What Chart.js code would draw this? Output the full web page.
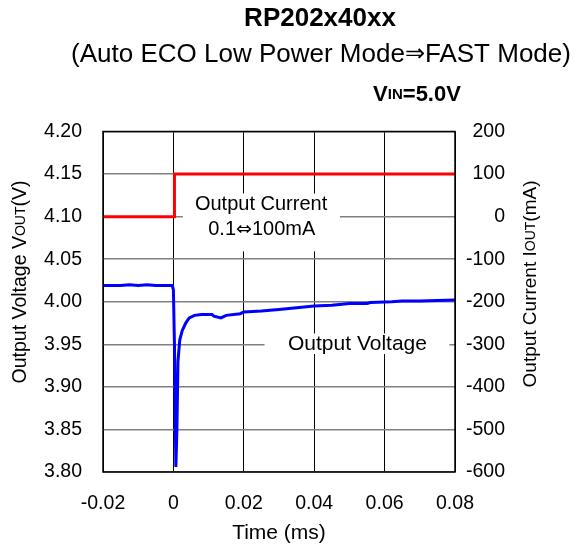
<!DOCTYPE html>
<html>
<head>
<meta charset="utf-8">
<script src="https://cdn.jsdelivr.net/npm/chart.js@4/dist/chart.umd.min.js"></script>
<style>
html,body{margin:0;padding:0;background:#fff;}
#wrap{width:588px;height:548px;position:relative;}
</style>
</head>
<body>
<div id="wrap"><canvas id="c" width="588" height="548"></canvas></div>
<script>
// Time (ms)
const voltTime = [-0.02,-0.015,-0.0125,-0.01,-0.0075,-0.005,-0.0003,0.0,0.0003,0.0007,0.0010,0.0013,0.0018,0.0025,0.0035,0.0045,0.006,0.008,0.011,0.0115,0.0135,0.015,0.019,0.02,0.025,0.03,0.04,0.045,0.05,0.055,0.056,0.062,0.065,0.07,0.08];
// Output voltage (V)
const voltValues = [4.019,4.019,4.020,4.019,4.020,4.019,4.019,4.014,3.95,3.806,3.85,3.93,3.955,3.966,3.975,3.981,3.984,3.985,3.985,3.983,3.981,3.984,3.986,3.988,3.989,3.991,3.995,3.996,3.998,3.998,3.999,4.000,4.001,4.001,4.002];
// Output current (mA)
const currTime = [-0.02,0.0003,0.0003,0.08];
const currValues = [0,0,100,100];

const xTicks = [-0.02,0,0.02,0.04,0.06,0.08];
const vTicks = [3.80,3.85,3.90,3.95,4.00,4.05,4.10,4.15,4.20];
const iTicks = [-600,-500,-400,-300,-200,-100,0,100,200];

const FONT = "'Liberation Sans', Arial, sans-serif";
const SYM = "'DejaVu Sans', sans-serif";

function drawMixed(ctx, parts, x, y, align){
  let w = 0;
  parts.forEach(p=>{ctx.font=p[1]; w+=ctx.measureText(p[0]).width;});
  let sx = align==='center' ? x - w/2 : (align==='right'? x-w : x);
  ctx.textAlign='left';
  parts.forEach(p=>{ctx.font=p[1]; ctx.fillText(p[0], sx, y); sx += ctx.measureText(p[0]).width;});
}

const decor = {
  id:'decor',
  beforeDatasetsDraw(chart){
    const ctx = chart.ctx, xs = chart.scales.x, ys = chart.scales.y;
    ctx.save();
    ctx.fillStyle='#fff';
    let x1 = xs.getPixelForValue(0.0027), x2 = xs.getPixelForValue(0.0473);
    let y1 = ys.getPixelForValue(4.1272), y2 = ys.getPixelForValue(4.0592);
    ctx.fillRect(x1,y1,x2-x1,y2-y1);
    x1 = xs.getPixelForValue(0.0259); x2 = xs.getPixelForValue(0.0784);
    y1 = ys.getPixelForValue(3.9627); y2 = ys.getPixelForValue(3.9386);
    ctx.fillRect(x1,y1,x2-x1,y2-y1);
    ctx.fillStyle='#000';
    ctx.textBaseline='middle';
    ctx.textAlign='center';
    ctx.font = "20px "+FONT;
    ctx.fillText('Output Current', xs.getPixelForValue(0.0249), ys.getPixelForValue(4.1137));
    drawMixed(ctx, [['0.1',"20px "+FONT],['\u21D4',"19px "+SYM],['100mA',"20px "+FONT]], xs.getPixelForValue(0.0251), ys.getPixelForValue(4.0844), 'center');
    ctx.textAlign='center';
    ctx.font = "21px "+FONT;
    ctx.fillText('Output Voltage', xs.getPixelForValue(0.0523), ys.getPixelForValue(3.9505));
    ctx.restore();
  },
  afterDraw(chart){
    const ctx = chart.ctx, a = chart.chartArea, y2 = chart.scales.y2;
    ctx.save();
    ctx.strokeStyle='#000'; ctx.lineWidth=1.5;
    ctx.strokeRect(a.left,a.top,a.right-a.left,a.bottom-a.top);
    ctx.fillStyle='#000';
    ctx.textBaseline='middle';
    // right axis tick labels, right-aligned
    ctx.textAlign='right';
    ctx.font = "19.5px "+FONT;
    iTicks.forEach(v=>{ ctx.fillText(String(v), 505, y2.getPixelForValue(v)); });
    ctx.textAlign='center';
    ctx.font = "bold 26px "+FONT;
    ctx.fillText('RP202x40xx', 320, 19);
    drawMixed(ctx, [['(Auto ECO Low Power Mode',"26px "+FONT],['\u21D2',"24px "+SYM],['FAST Mode)',"26px "+FONT]], 321, 55, 'center');
    drawMixed(ctx, [['V',"bold 22px "+FONT],['IN',"bold 15px "+FONT],['=5.0V',"bold 22px "+FONT]], 417, 95, 'center');
    ctx.save();
    ctx.translate(21, 282);
    ctx.rotate(-Math.PI/2);
    drawMixed(ctx, [['Output Voltage V',"19.5px "+FONT],['OUT',"14px "+FONT],['(V)',"19.5px "+FONT]], 0, 0, 'center');
    ctx.restore();
    ctx.save();
    ctx.translate(531, 284);
    ctx.rotate(-Math.PI/2);
    drawMixed(ctx, [['Output Current I',"19px "+FONT],['OUT',"14px "+FONT],['(mA)',"19px "+FONT]], 0, 0, 'center');
    ctx.restore();
    ctx.textAlign='center';
    ctx.font = "21px "+FONT;
    ctx.fillText('Time (ms)', (a.left+a.right)/2, 533);
    ctx.restore();
  }
};

new Chart(document.getElementById('c'), {
  type:'line',
  data:{
    datasets:[
      {label:'Output Voltage', data: voltTime.map((t,i)=>({x:t,y:voltValues[i]})), borderColor:'#0000FF', borderWidth:3, pointRadius:0, tension:0, yAxisID:'y', fill:false},
      {label:'Output Current', data: currTime.map((t,i)=>({x:t,y:currValues[i]})), borderColor:'#FF0000', borderWidth:3, pointRadius:0, tension:0, yAxisID:'y2', fill:false}
    ]
  },
  options:{
    responsive:false,
    animation:false,
    layout:{padding:{top:131.5,left:0,right:0,bottom:0}},
    plugins:{legend:{display:false}, tooltip:{enabled:false}, title:{display:false}},
    scales:{
      x:{
        type:'linear', min:-0.02, max:0.08,
        afterBuildTicks(s){ s.ticks = xTicks.map(v=>({value:v})); },
        afterFit(s){ s.height = 76; },
        grid:{color:'#000', lineWidth:1, drawTicks:false},
        border:{display:false},
        ticks:{color:'#000', font:{family:FONT,size:19.5}, padding:20, maxRotation:0,
          callback:(v)=> v===0 ? '0' : String(+v.toFixed(2))}
      },
      y:{
        type:'linear', position:'left', min:3.8, max:4.2,
        afterBuildTicks(s){ s.ticks = vTicks.map(v=>({value:v})); },
        afterFit(s){ s.width = 103; },
        grid:{color:'#808080', lineWidth:1.5, drawTicks:false},
        border:{display:false},
        ticks:{color:'#000', font:{family:FONT,size:19.5}, padding:21, callback:(v)=>v.toFixed(2)}
      },
      y2:{
        type:'linear', position:'right', min:-600, max:200,
        afterBuildTicks(s){ s.ticks = iTicks.map(v=>({value:v})); },
        afterFit(s){ s.width = 133; },
        grid:{drawOnChartArea:false, drawTicks:false},
        border:{display:false},
        ticks:{display:false}
      }
    }
  },
  plugins:[decor]
});
</script>
</body>
</html>
